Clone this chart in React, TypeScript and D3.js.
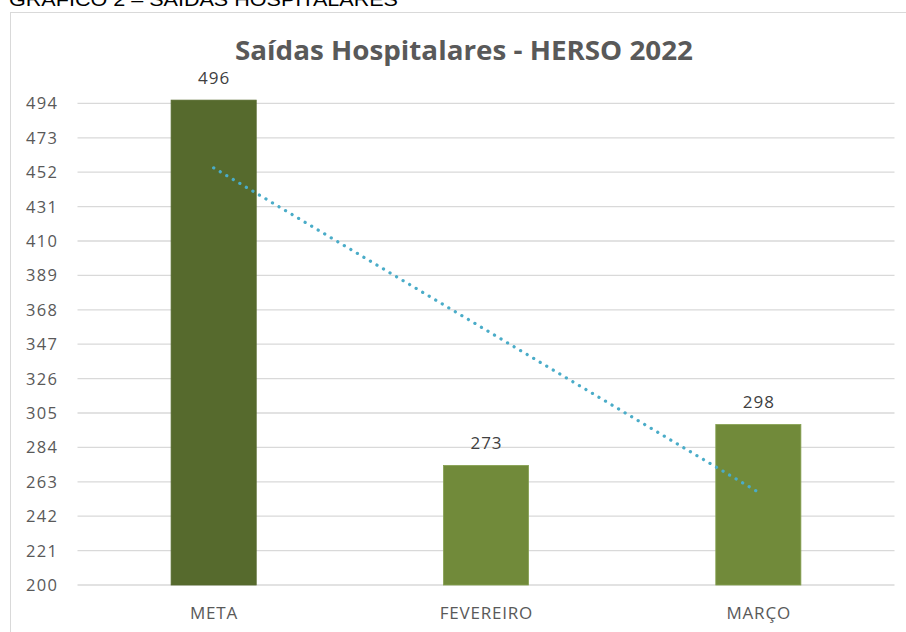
import React from "react";
import * as d3 from "d3";

const categories = ["META", "FEVEREIRO", "MARÇO"];
const values = [496, 273, 298];
const barColors = ["#566a2d", "#718a3a", "#718a3a"];
const yTicks = [200, 221, 242, 263, 284, 305, 326, 347, 368, 389, 410, 431, 452, 473, 494];
const chartTitle = "Saídas Hospitalares - HERSO 2022";
const headerText = "GRÁFICO 2 – SAÍDAS HOSPITALARES";

const W = 906;
const H = 632;
const plotLeft = 77.5;
const plotRight = 894.5;
const plotTop = 103.4;
const plotBottom = 585;

export default function App() {
  const x = d3.scaleBand<string>().domain(categories).range([plotLeft, plotRight]).paddingInner(0.6875).paddingOuter(0.34375);
  const y = d3.scaleLinear().domain([200, 494]).range([plotBottom, plotTop]);

  // linear trendline (least squares over category index)
  const idx = values.map((_, i) => i + 1);
  const mx = d3.mean(idx) as number;
  const my = d3.mean(values) as number;
  const slope =
    d3.sum(idx.map((xi, i) => (xi - mx) * (values[i] - my))) /
    d3.sum(idx.map((xi) => (xi - mx) * (xi - mx)));
  const intercept = my - slope * mx;
  const trendPts: [number, number][] = idx.map((xi, i) => [
    (x(categories[i]) as number) + x.bandwidth() / 2,
    y(intercept + slope * xi),
  ]);
  const trendPath = d3.line()([trendPts[0], trendPts[trendPts.length - 1]]) as string;

  const font = "'Open Sans', 'Noto Sans', sans-serif";

  return (
    <svg width={W} height={H} style={{ position: "fixed", left: 0, top: 0, background: "#fff" }}>
      <text x={9} y={6} fontFamily="'Liberation Sans', Arial, sans-serif" fontSize={18} fill="#000" textLength={389} lengthAdjust="spacingAndGlyphs">
        {headerText}
      </text>
      <rect x={10.5} y={12.5} width={W} height={H} fill="#fff" stroke="#d9d9d9" strokeWidth={1} />
      <text x={464} y={60} textAnchor="middle" fontFamily={font} fontWeight={700} fontSize={27} fill="#595959" textLength={458} lengthAdjust="spacingAndGlyphs">
        {chartTitle}
      </text>
      {yTicks.map((t) => (
        <g key={t}>
          <line x1={plotLeft} x2={plotRight} y1={y(t)} y2={y(t)} stroke="#d9d9d9" strokeWidth={1.3} />
          <text x={58.3} y={y(t) + 6} textAnchor="end" fontFamily={font} fontSize={16.5} letterSpacing={1.3} fill="#595959">
            {t}
          </text>
        </g>
      ))}
      {categories.map((c, i) => (
        <g key={c}>
          <rect
            x={x(c)}
            y={y(values[i])}
            width={x.bandwidth()}
            height={y(200) - y(values[i])}
            fill={barColors[i]}
            stroke={i === 0 ? "#566a2d" : "#86a050"}
            strokeWidth={0.8}
          />
          <text x={(x(c) as number) + x.bandwidth() / 2 + 0.5} y={y(values[i]) - 16} textAnchor="middle" fontFamily={font} fontSize={17} letterSpacing={1} fill="#404040">
            {values[i]}
          </text>
          <text x={(x(c) as number) + x.bandwidth() / 2 + 0.4} y={619} textAnchor="middle" fontFamily={font} fontSize={17} letterSpacing={0.8} fill="#595959">
            {c}
          </text>
        </g>
      ))}
      <path d={trendPath} fill="none" stroke="#4aacc8" strokeWidth={3.2} strokeLinecap="round" strokeDasharray="0.1 7.5" />
    </svg>
  );
}
